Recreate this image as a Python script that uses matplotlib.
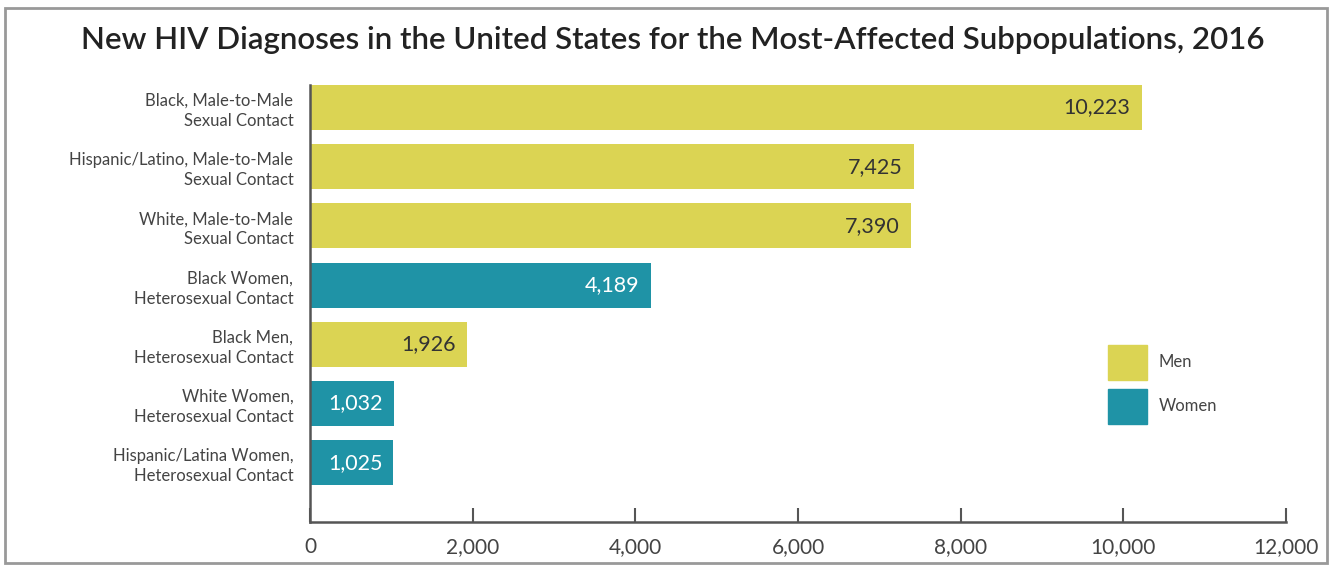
import matplotlib.pyplot as plt
from matplotlib.patches import Rectangle, Patch

# data (top to bottom)
groups = [
    'Black, Male-to-Male\nSexual Contact',
    'Hispanic/Latino, Male-to-Male\nSexual Contact',
    'White, Male-to-Male\nSexual Contact',
    'Black Women,\nHeterosexual Contact',
    'Black Men,\nHeterosexual Contact',
    'White Women,\nHeterosexual Contact',
    'Hispanic/Latina Women,\nHeterosexual Contact',
]
diagnoses = [10223, 7425, 7390, 4189, 1926, 1032, 1025]
sex = ['Men', 'Men', 'Men', 'Women', 'Men', 'Women', 'Women']
xticks = [0, 2000, 4000, 6000, 8000, 10000, 12000]

men_color = '#dbd453'
women_color = '#1f93a6'

plt.rcParams['font.family'] = ['Lato', 'DejaVu Sans']

fig = plt.figure(figsize=(13.32, 5.66), dpi=100)
ax = fig.add_axes([0.2327, 0.0777, 0.7328, 0.7721])

pos = list(range(len(groups) - 1, -1, -1))
colors = [men_color if s == 'Men' else women_color for s in sex]
ax.barh(pos, diagnoses, height=0.76, color=colors)

# value labels inside the bars
for p, v, s in zip(pos, diagnoses, sex):
    ax.text(v - 135, p, f'{v:,}', ha='right', va='center', fontsize=15.5,
            color='#333333' if s == 'Men' else 'white')

ax.set_xlim(0, 12000)
ax.set_ylim(-1.0, 6.38)
ax.set_yticks(pos)
ax.set_yticklabels(groups, fontsize=12, color='#444444', linespacing=1.3)
ax.set_xticks(xticks)
ax.set_xticklabels([f'{t:,}' for t in xticks], fontsize=15, color='#444444')
ax.tick_params(axis='y', length=0, pad=12)
ax.tick_params(axis='x', direction='in', length=10, width=1.5, color='#555555', pad=11)
for side in ['top', 'right']:
    ax.spines[side].set_visible(False)
for side in ['left', 'bottom']:
    ax.spines[side].set_color('#555555')
    ax.spines[side].set_linewidth(1.8)

# legend
handles = [Patch(color=men_color, label='Men'), Patch(color=women_color, label='Women')]
ax.legend(handles=handles, loc='center left', bbox_to_anchor=(0.802, 0.315),
          frameon=False, fontsize=12, handlelength=2.35, handleheight=2.9,
          labelspacing=0.5, handletextpad=0.7, labelcolor='#444444')

fig.text(0.505, 0.93, 'New HIV Diagnoses in the United States for the Most-Affected Subpopulations, 2016',
         ha='center', va='center', fontsize=22.5, fontweight='semibold', color='#222222')

# outer frame
fig.patches.append(Rectangle((0.004, 0.006), 0.992, 0.98, transform=fig.transFigure,
                             fill=False, edgecolor='#999999', linewidth=2))

plt.savefig('out.png')
